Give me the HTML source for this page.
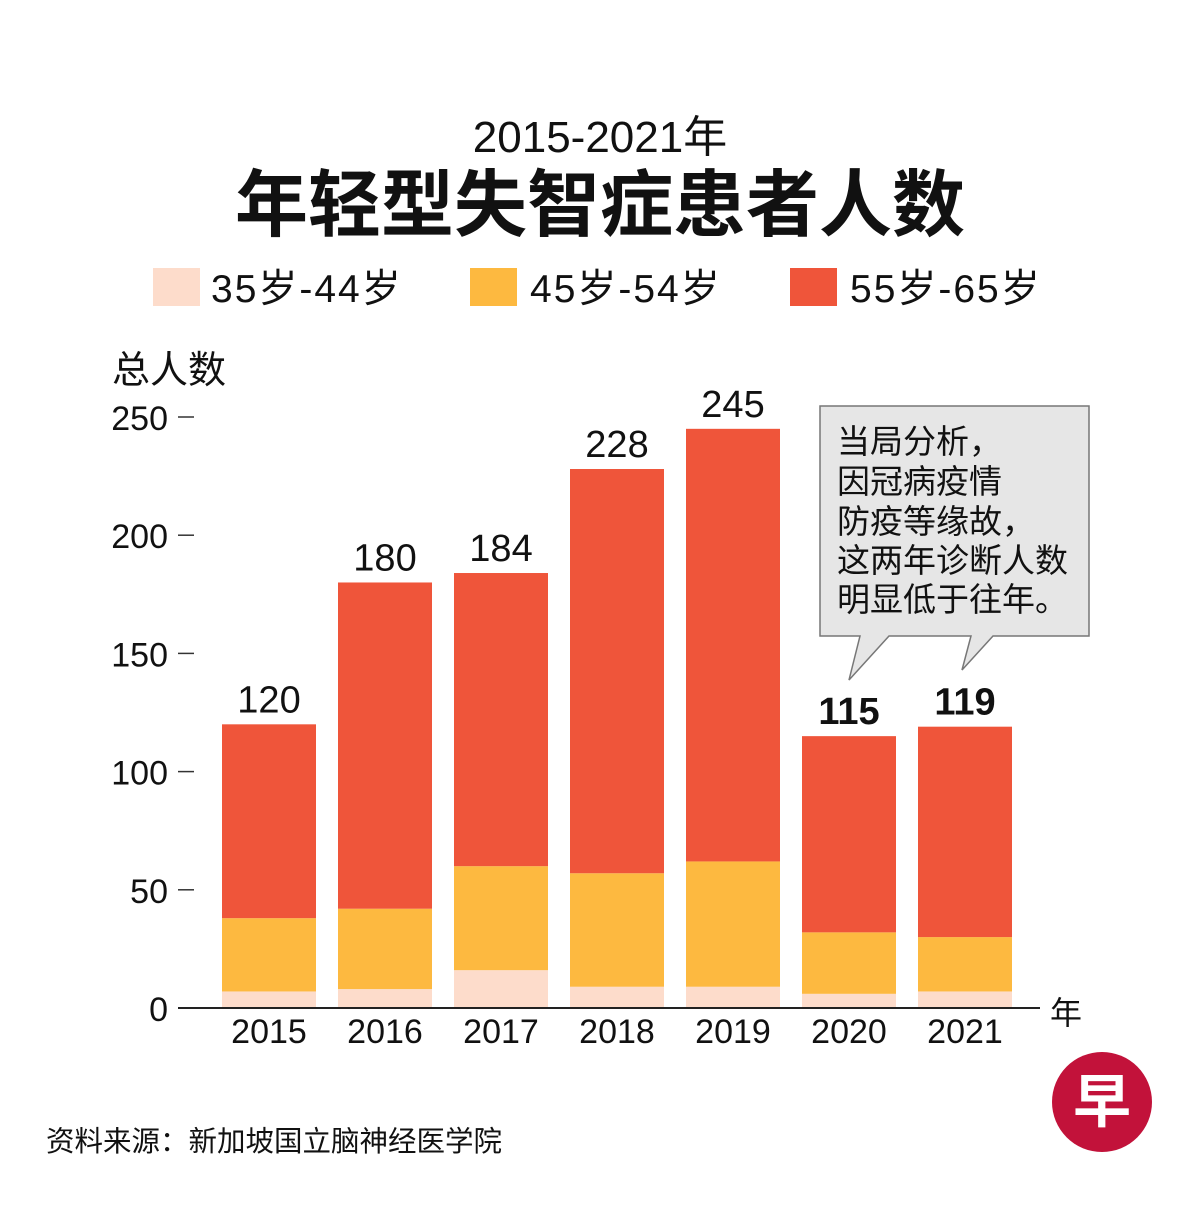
<!DOCTYPE html>
<html><head><meta charset="utf-8"><style>
html,body{margin:0;padding:0;background:#fff;}
svg text{font-family:"Liberation Sans","Noto Sans CJK SC",sans-serif;fill:#111;}
</style></head><body>
<svg width="1200" height="1200" viewBox="0 0 1200 1200" xmlns="http://www.w3.org/2000/svg">
<rect width="1200" height="1200" fill="#fff"/>
<text x="600" y="152" font-size="44" text-anchor="middle">2015-2021年</text>
<text x="600" y="230" font-size="73" font-weight="bold" text-anchor="middle">年轻型失智症患者人数</text>
<g>
<rect x="153" y="268" width="47" height="38" fill="#fddccb"/>
<text x="211" y="302" font-size="39" letter-spacing="2">35岁-44岁</text>
<rect x="470" y="268" width="47" height="38" fill="#fdb940"/>
<text x="530" y="302" font-size="39" letter-spacing="2">45岁-54岁</text>
<rect x="790" y="268" width="47" height="38" fill="#ef553a"/>
<text x="850" y="302" font-size="39" letter-spacing="2">55岁-65岁</text>
</g>
<text x="112" y="383" font-size="38">总人数</text>
<g id="axis"></g>
<g id="bars"></g>
<g>
<path d="M820,406 H1089 V636 H993 L962,670 L971,636 H889 L849,680 L860,636 H820 Z" fill="#e6e6e6" stroke="#777" stroke-width="1.5"/>
<text font-size="33">
<tspan x="837" y="453">当局分析，</tspan>
<tspan x="837" y="493">因冠病疫情</tspan>
<tspan x="837" y="533">防疫等缘故，</tspan>
<tspan x="837" y="572">这两年诊断人数</tspan>
<tspan x="837" y="611">明显低于往年。</tspan>
</text>
</g>
<text x="1050" y="1024" font-size="32">年</text>
<text x="46" y="1151" font-size="28.5">资料来源：新加坡国立脑神经医学院</text>
<g>
<circle cx="1102" cy="1102" r="50" fill="#c2123a"/>
<text x="1102" y="1122" font-size="58" font-weight="bold" text-anchor="middle" style="fill:#fff">早</text>
</g>
</svg>
<script>
const years = ["2015","2016","2017","2018","2019","2020","2021"];
const seriesA = [7, 8, 16, 9, 9, 6, 7];
const seriesB = [31, 34, 44, 48, 53, 26, 23];
const seriesC = [82, 138, 124, 171, 183, 83, 89];
const totals = [120, 180, 184, 228, 245, 115, 119];
const yTicks = [0, 50, 100, 150, 200, 250];
const boldLabels = [false,false,false,false,false,true,true];

const NS = "http://www.w3.org/2000/svg";
const y0 = 1008, pxPer = 591/250;
function yScale(v){ return y0 - v*pxPer; }
function xScale(i){ return 222 + i*116; }
const bw = 94;
const axis = document.getElementById('axis');
const bars = document.getElementById('bars');
function mk(tag, attrs, parent){ const e=document.createElementNS(NS,tag); for(const k in attrs) e.setAttribute(k,attrs[k]); parent.appendChild(e); return e; }

yTicks.forEach(t=>{
  const y=yScale(t);
  const tl=mk('line',{x1:178,x2:194,y1:y,y2:y,stroke:'#333','stroke-width':1.5},axis);
  
  
  const tx=mk('text',{x:168,y:y+13,'font-size':34,'text-anchor':'end'},axis);
  tx.textContent=t;
  
  
});
const colors=['#fddccb','#fdb940','#ef553a'];
const series=[seriesA,seriesB,seriesC];
const segNames=['seg-35-44','seg-45-54','seg-55-65'];
years.forEach((yr,i)=>{
  let cum=0;
  series.forEach((s,k)=>{
    const v=s[i];
    const r=mk('rect',{x:xScale(i),y:yScale(cum+v),width:bw,height:v*pxPer,fill:colors[k]},bars);
    
    
    cum+=v;
  });
  const lab=mk('text',{x:xScale(i)+bw/2,y:yScale(totals[i])-12,'font-size':38,'text-anchor':'middle','font-weight':boldLabels[i]?'bold':'normal'},bars);
  lab.textContent=totals[i];
  
  
  const xl=mk('text',{x:xScale(i)+bw/2,y:1043,'font-size':34,'text-anchor':'middle'},bars);
  xl.textContent=yr;
  
  
});
const base=mk('line',{x1:178,x2:1040,y1:y0,y2:y0,stroke:'#222','stroke-width':2},bars);


</script>
</body></html>
